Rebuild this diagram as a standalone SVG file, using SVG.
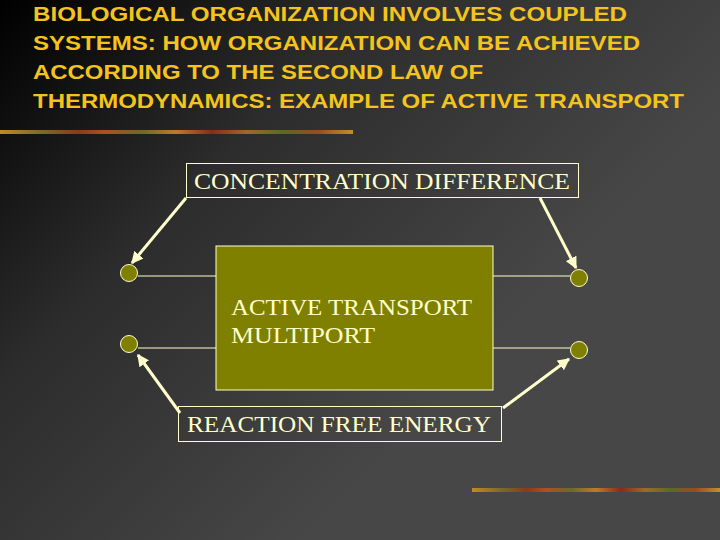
<svg xmlns="http://www.w3.org/2000/svg" width="720" height="540" viewBox="0 0 720 540">
<defs>
<linearGradient id="bg" x1="0" y1="0" x2="0.75" y2="0.55">
<stop offset="0" stop-color="#000000"/>
<stop offset="0.45" stop-color="#2c2c2c"/>
<stop offset="1" stop-color="#474747"/>
</linearGradient>
<linearGradient id="bar" x1="0" y1="0" x2="1" y2="0">
<stop offset="0" stop-color="#c08a20"/>
<stop offset="0.12" stop-color="#7a6a2a"/>
<stop offset="0.22" stop-color="#8a3a1a"/>
<stop offset="0.3" stop-color="#b05020"/>
<stop offset="0.4" stop-color="#6a6a28"/>
<stop offset="0.5" stop-color="#c07a28"/>
<stop offset="0.6" stop-color="#8a2a18"/>
<stop offset="0.7" stop-color="#a06a28"/>
<stop offset="0.8" stop-color="#5a6a22"/>
<stop offset="0.9" stop-color="#9a4a20"/>
<stop offset="1" stop-color="#c0902a"/>
</linearGradient>
<marker id="ah" viewBox="0 0 10 10" refX="9" refY="5" markerWidth="4" markerHeight="4" orient="auto" markerUnits="strokeWidth">
<path d="M0,0 L10,5 L0,10 z" fill="#ffffcc"/>
</marker>
<style>
.title{font-family:"Liberation Sans",Arial,sans-serif;font-weight:bold;font-size:21px;fill:#f4c41c}
.lbl{font-family:"Liberation Serif","Times New Roman",serif;font-size:24px;fill:#ffffcc}
.box{fill:none;stroke:#ffffcc;stroke-width:1}
.port{fill:#808000;stroke:#ffffcc;stroke-width:1}
.wire{stroke:#ffffcc;stroke-width:1;fill:none}
.arrow{stroke:#ffffcc;stroke-width:3;fill:none;marker-end:url(#ah)}
</style>
</defs>
<rect width="720" height="540" fill="url(#bg)"/>
<g id="title">
<text class="title" x="33" y="21" textLength="594" lengthAdjust="spacingAndGlyphs">BIOLOGICAL ORGANIZATION INVOLVES COUPLED</text>
<text class="title" x="33" y="50" textLength="607" lengthAdjust="spacingAndGlyphs">SYSTEMS: HOW ORGANIZATION CAN BE ACHIEVED</text>
<text class="title" x="33" y="79" textLength="450" lengthAdjust="spacingAndGlyphs">ACCORDING TO THE SECOND LAW OF</text>
<text class="title" x="33" y="108" textLength="651" lengthAdjust="spacingAndGlyphs">THERMODYNAMICS: EXAMPLE OF ACTIVE TRANSPORT</text>
</g>
<rect x="0" y="130" width="353" height="4" fill="url(#bar)"/>
<rect x="472" y="488" width="248" height="4" fill="url(#bar)"/>
<g id="connectors">
<line class="wire" x1="138" y1="276" x2="216" y2="276"/>
<line class="wire" x1="493" y1="276" x2="570" y2="276"/>
<line class="wire" x1="138" y1="348" x2="216" y2="348"/>
<line class="wire" x1="493" y1="348" x2="570" y2="348"/>
<line class="arrow" x1="186" y1="198" x2="132" y2="263"/>
<line class="arrow" x1="540" y1="198" x2="576" y2="268"/>
<line class="arrow" x1="180" y1="413" x2="138" y2="355"/>
<line class="arrow" x1="503" y1="408" x2="569" y2="359"/>
</g>
<g id="multiport">
<rect x="216" y="246" width="277" height="144" fill="#808000" stroke="#ffffcc" stroke-width="1"/>
<text class="lbl" x="231" y="315" textLength="241" lengthAdjust="spacingAndGlyphs">ACTIVE TRANSPORT</text>
<text class="lbl" x="231" y="343" textLength="144" lengthAdjust="spacingAndGlyphs">MULTIPORT</text>
</g>
<g id="concentration">
<rect class="box" x="186.5" y="163.5" width="392" height="34"/>
<text class="lbl" x="194" y="189" textLength="376" lengthAdjust="spacingAndGlyphs">CONCENTRATION DIFFERENCE</text>
</g>
<g id="reaction">
<rect class="box" x="178.5" y="406.5" width="323" height="35"/>
<text class="lbl" x="187" y="432" textLength="304" lengthAdjust="spacingAndGlyphs">REACTION FREE ENERGY</text>
</g>
<g id="port-tl"><circle class="port" cx="129" cy="273" r="8.5"/></g>
<g id="port-tr"><circle class="port" cx="579" cy="278" r="8.5"/></g>
<g id="port-bl"><circle class="port" cx="129" cy="344" r="8.5"/></g>
<g id="port-br"><circle class="port" cx="579" cy="350" r="8.5"/></g>
</svg>
